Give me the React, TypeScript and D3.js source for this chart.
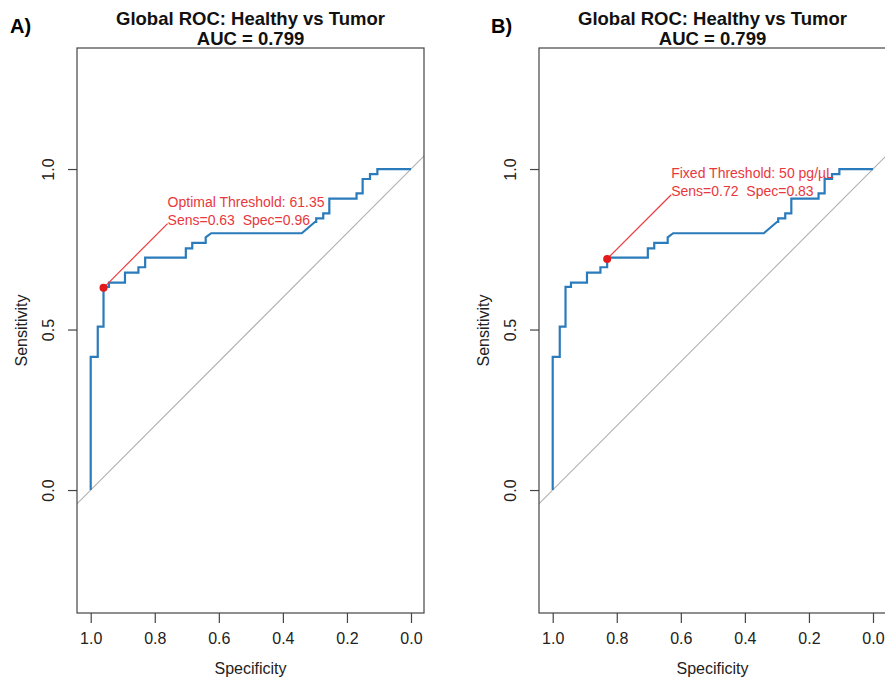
import * as d3 from 'd3';
import { useEffect, useRef } from 'react';

// ROC curve vertices (specificity, sensitivity), shared by both panels
const specificity = [1.0, 1.0, 0.978, 0.978, 0.96, 0.96, 0.943, 0.943, 0.893, 0.893, 0.851, 0.851, 0.83, 0.83, 0.703, 0.703, 0.683, 0.683, 0.641, 0.641, 0.624, 0.341, 0.3, 0.296, 0.296, 0.274, 0.274, 0.255, 0.255, 0.17, 0.17, 0.151, 0.151, 0.128, 0.128, 0.105, 0.105, 0.0];
const sensitivity = [0.0, 0.415, 0.415, 0.509, 0.509, 0.633, 0.633, 0.646, 0.646, 0.677, 0.677, 0.694, 0.694, 0.724, 0.724, 0.753, 0.753, 0.77, 0.77, 0.787, 0.8, 0.8, 0.835, 0.835, 0.846, 0.846, 0.862, 0.862, 0.908, 0.908, 0.924, 0.924, 0.969, 0.969, 0.984, 0.984, 1.0, 1.0];

const xTicks = [1.0, 0.8, 0.6, 0.4, 0.2, 0.0];
const yTicks = [0.0, 0.5, 1.0];

const panelLabels = ['A)', 'B)'];
const titles = ['Global ROC: Healthy vs Tumor', 'AUC = 0.799'];
const markerSpec = [0.96, 0.83];
const markerSens = [0.63, 0.72];
const noteLine1 = ['Optimal Threshold: 61.35', 'Fixed Threshold: 50 pg/µL'];
const noteLine2 = ['Sens=0.63  Spec=0.96', 'Sens=0.72  Spec=0.83'];

const App = () => {
  const width = 885;
  const height = 682;
  const svgRef = useRef<SVGSVGElement>(null);

  useEffect(() => {
    const svg = d3.select(svgRef.current);
    svg.selectAll('*').remove();

    const boxW = 347;
    const boxH = 565;
    const boxTop = 48;
    const lefts = [77, 539];
    const font = '"Liberation Sans", Arial, Helvetica, sans-serif';

    lefts.forEach((left, i) => {
      // R-style extended domains with asp = 1
      const x = d3.scaleLinear().domain([1.0428, -0.0406]).range([0, boxW]);
      const y = d3.scaleLinear().domain([1.377, -0.383]).range([0, boxH]);

      const g = svg.append('g').attr('transform', `translate(${left},${boxTop})`);

      const clipId = `clip${i}`;
      g.append('clipPath').attr('id', clipId)
        .append('rect').attr('width', boxW).attr('height', boxH);

      // chance diagonal
      g.append('line')
        .attr('clip-path', `url(#${clipId})`)
        .attr('x1', x(1.1)).attr('y1', y(-0.1))
        .attr('x2', x(-0.1)).attr('y2', y(1.1))
        .attr('stroke', '#b0b0b0').attr('stroke-width', 1.1);

      // ROC curve
      const line = d3.line<number>().x(d => x(specificity[d])).y(d => y(sensitivity[d]));
      g.append('path')
        .attr('d', line(d3.range(specificity.length)))
        .attr('fill', 'none').attr('stroke', '#2a7bbb').attr('stroke-width', 2.2)
        .attr('stroke-linejoin', 'miter');

      // threshold marker + annotation
      const ms = markerSpec[i];
      const mv = markerSens[i];
      g.append('line')
        .attr('x1', x(ms)).attr('y1', y(mv))
        .attr('x2', x(ms - 0.2)).attr('y2', y(mv + 0.2))
        .attr('stroke', '#ea3b3f').attr('stroke-width', 1.2);
      g.append('circle')
        .attr('cx', x(ms)).attr('cy', y(mv)).attr('r', 4)
        .attr('fill', '#e31a1c');
      const note = g.append('text')
        .style('white-space', 'pre')
        .attr('font-family', font).attr('font-size', 14).attr('fill', '#e8383d');
      note.append('tspan').attr('x', x(ms - 0.2)).attr('y', y(mv + 0.2) - 16.5).text(noteLine1[i]);
      note.append('tspan').attr('x', x(ms - 0.2)).attr('y', y(mv + 0.2) + 1).text(noteLine2[i]);

      // box
      g.append('rect')
        .attr('width', boxW).attr('height', boxH)
        .attr('fill', 'none').attr('stroke', '#444').attr('stroke-width', 1.2);

      // axes
      const xAxis = d3.axisBottom(x).tickValues(xTicks).tickFormat(d3.format('.1f'))
        .tickSizeOuter(0).tickSize(10).tickPadding(10);
      const gx = g.append('g').attr('transform', `translate(0,${boxH})`).call(xAxis);
      const yAxis = d3.axisLeft(y).tickValues(yTicks).tickFormat(d3.format('.1f'))
        .tickSizeOuter(0).tickSize(9).tickPadding(11);
      const gy = g.append('g').call(yAxis);
      [gx, gy].forEach(a => {
        a.select('.domain').remove();
        a.selectAll('line').attr('stroke', '#444').attr('stroke-width', 1.2);
        a.selectAll('text').attr('font-family', font).attr('font-size', 16).attr('fill', '#222');
      });
      gy.selectAll('.tick text')
        .attr('transform', 'rotate(-90)')
        .attr('x', 0).attr('y', -29)
        .attr('dy', '0.35em')
        .attr('text-anchor', 'middle');

      // axis titles
      g.append('text')
        .attr('x', boxW / 2).attr('y', boxH + 61)
        .attr('text-anchor', 'middle')
        .attr('font-family', font).attr('font-size', 16).attr('fill', '#222')
        .text('Specificity');
      g.append('text')
        .attr('transform', `translate(-50,${boxH / 2}) rotate(-90)`)
        .attr('text-anchor', 'middle')
        .attr('font-family', font).attr('font-size', 16).attr('fill', '#222')
        .text('Sensitivity');

      // main title
      titles.forEach((t, j) => {
        g.append('text')
          .attr('x', boxW / 2).attr('y', -23 + j * 20)
          .attr('text-anchor', 'middle')
          .attr('font-family', font).attr('font-size', 18.5).attr('font-weight', 'bold')
          .attr('fill', '#111')
          .text(t);
      });

      // panel label
      svg.append('text')
        .attr('x', i === 0 ? 10 : 491).attr('y', 33)
        .attr('font-family', font).attr('font-size', 20).attr('font-weight', 'bold')
        .attr('fill', '#000')
        .text(panelLabels[i]);
    });
  }, []);

  return (
    <div style={{ position: 'absolute', left: 0, top: 0, background: '#fff' }}>
      <svg ref={svgRef} width={width} height={height} viewBox={`0 0 ${width} ${height}`} style={{ display: 'block' }} />
    </div>
  );
};

export default App;
